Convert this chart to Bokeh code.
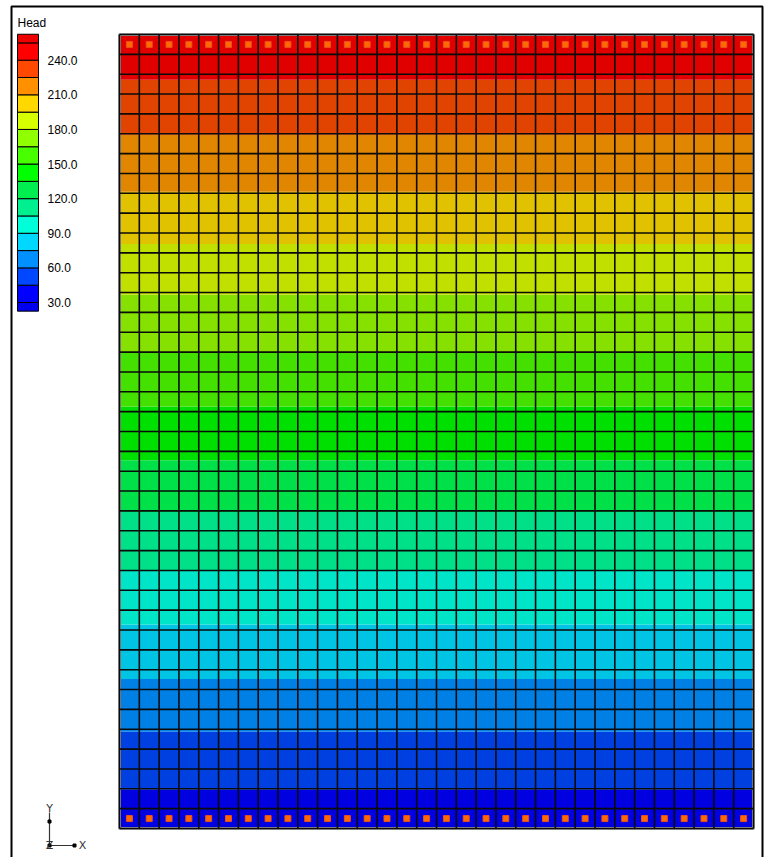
import numpy as np
from bokeh.plotting import figure
from bokeh.models import Range1d
from bokeh.core.properties import value
from bokeh.embed import file_html
from bokeh.resources import INLINE

# ---------------- data ----------------
n_cols = 32
n_rows = 40
# head value of each model row, top row first
row_head = [249.7, 244.3, 238.8, 233.4, 227.9, 222.6, 217.5, 212.3, 206.8, 201.0,
            195.3, 189.3, 183.4, 177.8, 172.8, 167.7, 162.4, 156.8, 151.3, 145.9,
            140.6, 134.7, 128.8, 122.8, 117.8, 112.7, 107.6, 102.3, 96.7, 91.2,
            85.7, 80.3, 74.8, 69.1, 63.4, 58.0, 52.9, 47.8, 42.7, 37.6]
constant_head_rows = [0, 39]
contour_levels = [30, 45, 60, 75, 90, 105, 120, 135, 150, 165, 180, 195, 210, 225, 240, 255]
map_colors = ["#0000e0", "#0040e0", "#0080e4", "#00c4e4", "#00e4c8", "#00e088",
              "#00e048", "#00e000", "#44e000", "#86e000", "#c2e000", "#e0c200",
              "#e08600", "#e04400", "#e00000"]
legend_colors = ["#0000ee", "#0000ff", "#0048ff", "#0090ff", "#00d8ff", "#00ffd8",
                 "#00f090", "#00ee50", "#00ff00", "#48ff00", "#90ff00", "#d8ff00",
                 "#ffd800", "#ff9000", "#ff4800", "#ff0000", "#ee0000"]
label_values = [30, 60, 90, 120, 150, 180, 210, 240]
legend_title = "Head"

# ---------------- layout (page pixels) ----------------
W, H = 765, 857
PAGE0 = 0
grid_l, grid_r, grid_t, grid_b = 119, 753, 34, 828
leg_l, leg_r = 17, 38
lev_a, lev_a_y = 30, 302.0
lev_b, lev_b_y = 240, 59.7
frame_l, frame_r, frame_t, frame_b = 11, 762, 6, 880

sx = (grid_r - grid_l) / n_cols
sy = (grid_b - grid_t) / n_rows
fx0 = -(grid_l - PAGE0) / sx
fx1 = fx0 + W / sx
fy1 = n_rows + (grid_t - PAGE0) / sy
fy0 = fy1 - H / sy

p = figure(width=W, height=H, output_backend="svg", toolbar_location=None,
           x_range=Range1d(fx0, fx1), y_range=Range1d(fy0, fy1),
           x_axis_location=None, y_axis_location=None, min_border=0)
p.grid.visible = False
p.outline_line_color = None
p.background_fill_color = "white"
p.border_fill_color = "white"

k = (lev_a_y - lev_b_y) / (lev_b - lev_a)
lev_top = lev_b + (lev_b_y - PAGE0) / k
lev_bot = lev_a - (PAGE0 + H - lev_a_y) / k
p.extra_x_ranges = {"px": Range1d(PAGE0, PAGE0 + W)}
p.extra_y_ranges = {"py": Range1d(PAGE0 + H, PAGE0), "lev": Range1d(lev_bot, lev_top)}

# page frame
p.quad(left=frame_l, right=frame_r, top=frame_t, bottom=frame_b, fill_color=None,
       line_color="black", line_width=2, x_range_name="px", y_range_name="py")

# ---------------- contour bands ----------------
h = np.array(row_head)
yc = n_rows - (np.arange(n_rows) + 0.5)
ys_asc = yc[::-1]
hs_asc = h[::-1]


def y_at(L):
    if L <= hs_asc[0]:
        return 0.0
    if L >= hs_asc[-1]:
        return float(n_rows)
    return float(np.interp(L, hs_asc, ys_asc))


bb, bt, bc = [], [], []
for i in range(len(contour_levels) - 1):
    b = y_at(contour_levels[i])
    t = y_at(contour_levels[i + 1])
    if t > b:
        bb.append(b)
        bt.append(t)
        bc.append(map_colors[i])
p.quad(left=0, right=n_cols, bottom=bb, top=bt, fill_color=bc, line_color=None)

# outer gray rim then black cell grid
p.quad(left=0, right=n_cols, bottom=0, top=n_rows, fill_color=None,
       line_color="#a0a0a0", line_width=3)
gx = [[i, i] for i in range(n_cols + 1)] + [[0, n_cols] for _ in range(n_rows + 1)]
gy = [[0, n_rows] for _ in range(n_cols + 1)] + [[j, j] for j in range(n_rows + 1)]
p.multi_line(xs=gx, ys=gy, line_color="#0a0a0a", line_width=1.6)

# constant-head markers
mx, my = [], []
for r in constant_head_rows:
    for c in range(n_cols):
        mx.append(c + 0.5)
        my.append(n_rows - r - 0.5)
p.scatter(x=mx, y=my, marker="square", size=6, fill_color="#ff6a00",
          line_color="#e85020", line_width=1)

# ---------------- legend ----------------
step = contour_levels[1] - contour_levels[0]
edges = [contour_levels[0] - step / 2] + contour_levels + [contour_levels[-1] + step / 2]
p.quad(left=leg_l, right=leg_r, bottom=edges[:-1], top=edges[1:],
       fill_color=legend_colors, line_color="black", line_width=1,
       x_range_name="px", y_range_name="lev")
p.text(x=[47] * len(label_values), y=label_values,
       text=["%.1f" % v for v in label_values],
       x_range_name="px", y_range_name="lev",
       text_font=value("Liberation Sans"), text_font_size="12px",
       text_baseline="middle", text_align="left", text_color="black")
p.text(x=[17], y=[22], text=[legend_title], x_range_name="px", y_range_name="py",
       text_font=value("Liberation Sans"), text_font_size="12px",
       text_baseline="middle", text_align="left", text_color="black")

# ---------------- axis triad icon ----------------
ox, oy = 49, 845
p.segment(x0=[ox, ox], y0=[oy, oy], x1=[ox, ox + 26], y1=[oy - 33, oy],
          x_range_name="px", y_range_name="py", line_color="#333333", line_width=1.2)
p.scatter(x=[ox, ox, ox + 25], y=[oy - 24, oy, oy], marker="square", size=3,
          fill_color="black", line_color="black",
          x_range_name="px", y_range_name="py")
p.text(x=[ox, ox + 33, ox], y=[oy - 37, oy, oy], text=["Y", "X", "Z"],
       x_range_name="px", y_range_name="py",
       text_font=value("DejaVu Sans"), text_font_size="11px",
       text_baseline="middle", text_align="center", text_color="#333333")

open("out.html", "w").write(file_html(p, INLINE))
